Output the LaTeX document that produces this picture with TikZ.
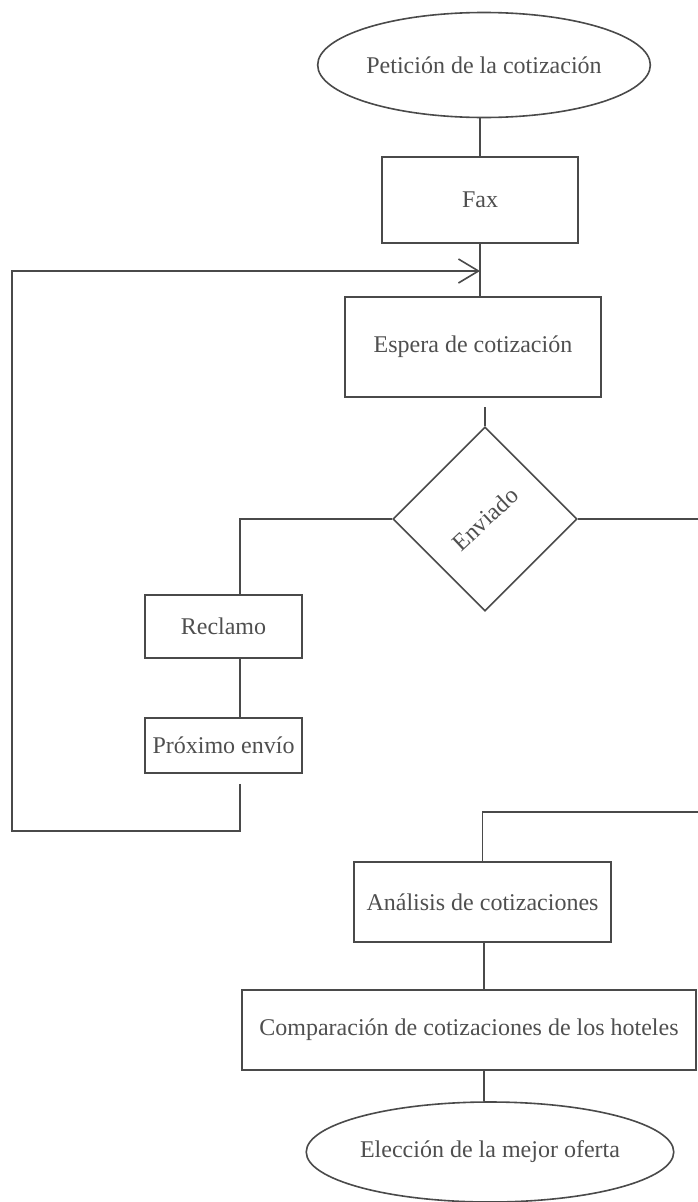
\documentclass[tikz,border=0pt]{standalone}
\usepackage{fontspec}
\setmainfont{Liberation Serif}
\usetikzlibrary{shapes.geometric,arrows.meta}
\definecolor{inkc}{HTML}{4A4A4A}
\definecolor{txtc}{HTML}{4F4F4F}
\tikzset{
  ln/.style={draw=inkc, line width=1.6pt},
  lbl/.style={text=txtc, font=\fontsize{24}{28}\selectfont, inner sep=0pt},
  box/.style={rectangle, ln, lbl},
  oval/.style={ellipse, ln, lbl},
  decision/.style={diamond, ln, inner sep=0pt, aspect=1},
  barb/.style={-{Straight Barb[length=20pt,width=24pt,line width=1.6pt]}}
}
\begin{document}
\begin{tikzpicture}[x=1pt,y=-1pt]
  \useasboundingbox (0,0) rectangle (698,1202);
  \clip (0,0) rectangle (698,1202);
  \fill[white] (0,0) rectangle (698,1202);

  % process steps
  \node[oval, minimum width=298pt, minimum height=105pt] (start) at (484,65) {Petición de la cotización};
  \node[box, minimum width=196pt, minimum height=86pt] (fax) at (480,200) {Fax};
  \node[box, minimum width=256pt, minimum height=100pt] (wait) at (473,347) {Espera de cotización};
  \node[decision, minimum width=184pt, minimum height=184pt] (sent) at (485,519) {};
  \node[lbl, rotate=43] at (sent) {Enviado};
  \node[box, minimum width=157pt, minimum height=63pt] (claim) at (223.5,626.5) {Reclamo};
  \node[box, minimum width=157pt, minimum height=55pt] (next) at (223.5,745.5) {Próximo envío};
  \node[box, minimum width=257pt, minimum height=80pt] (anal) at (482.5,902) {Análisis de cotizaciones};
  \node[box, minimum width=454pt, minimum height=80pt] (comp) at (469,1030) {Comparación de cotizaciones de los hoteles};
  \node[oval, minimum width=303pt, minimum height=100pt] (pick) at (490,1152) {Elección de la mejor oferta};

  % fixed routing points
  \coordinate (entry) at (480,271);
  \coordinate (loopcorner) at (12,831);
  \coordinate (leftdrop) at (240,0);
  \coordinate (rightrun) at (702,812);

  % main spine
  \draw[ln] (fax.north) -- (fax.north |- start.south);
  \draw[ln] (fax.south) -- (fax.south |- wait.north);
  \draw[ln] (sent.north) -- ([yshift=-9pt]sent.north |- wait.south);

  % "not sent" branch and loop back
  \draw[ln] (sent.west) -- (leftdrop |- sent.west) -- (leftdrop |- claim.north);
  \draw[ln] (leftdrop |- claim.south) -- (leftdrop |- next.north);
  \draw[ln, barb] ([yshift=-10pt]leftdrop |- next.south) -- (leftdrop |- loopcorner)
      -- (loopcorner) -- (loopcorner |- entry) -- (entry);

  % "sent" branch
  \draw[ln] (sent.east) -- (rightrun |- sent.east) -- (rightrun)
      -- (anal.north |- rightrun) -- (anal.north);
  \draw[ln] (anal.south) -- (anal.south -| 484,0) -- (comp.north -| 484,0);
  \draw[ln] (comp.south -| 484,0) -- (pick.north -| 484,0);
\end{tikzpicture}
\end{document}
